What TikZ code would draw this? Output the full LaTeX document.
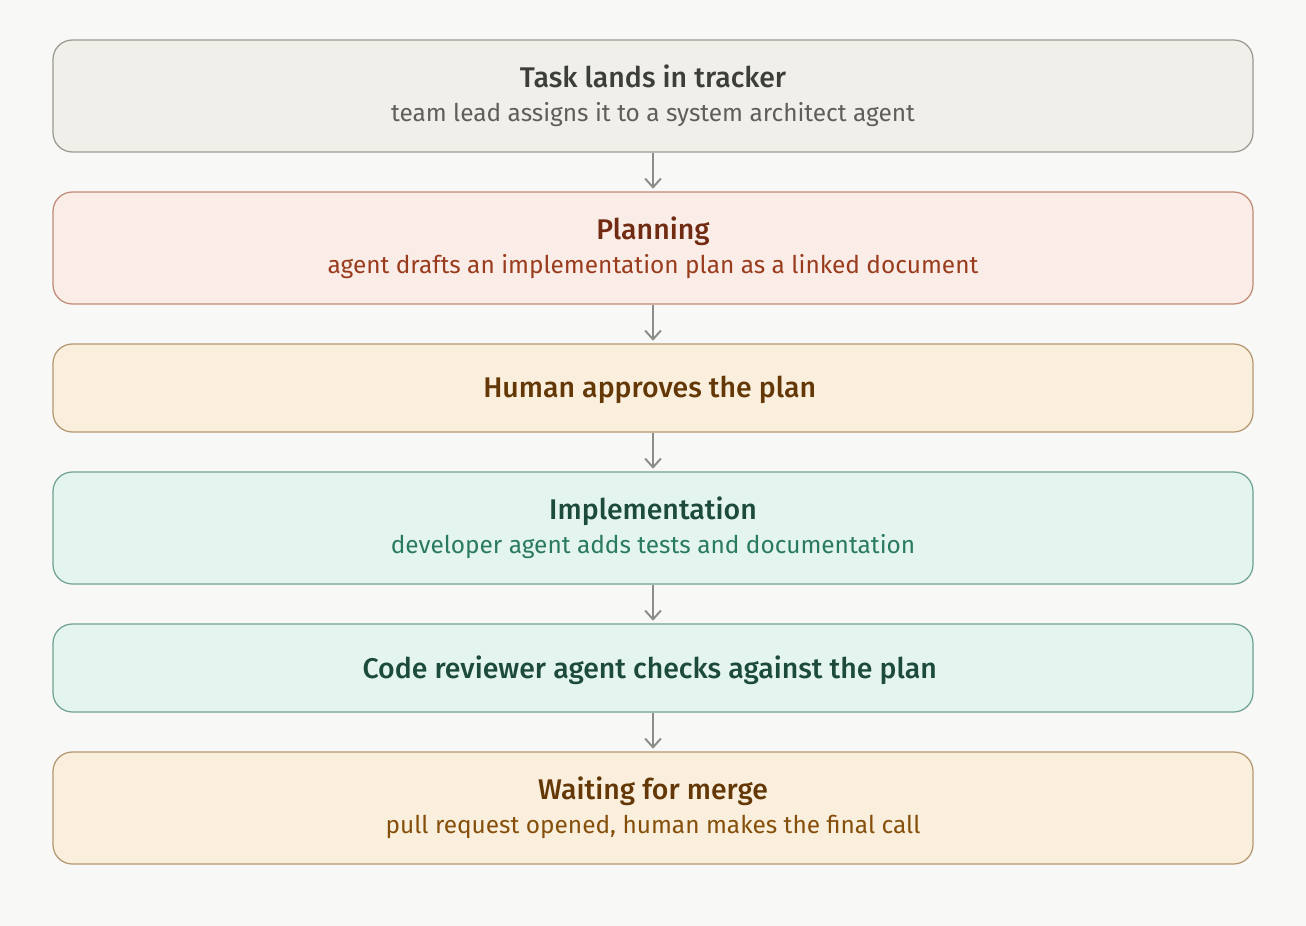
\documentclass[tikz,border=0pt]{standalone}
\usepackage{fontspec}
\setmainfont{Fira Sans}[BoldFont={Fira Sans Medium}]
\usepackage{xcolor}
\usetikzlibrary{arrows.meta,positioning}
\definecolor{pagebg}{HTML}{f8f8f6}
\definecolor{trackfill}{HTML}{f0efea}
\definecolor{trackline}{HTML}{9a9890}
\definecolor{tracktitle}{HTML}{3d3d3a}
\definecolor{tracksub}{HTML}{5f5e5a}
\definecolor{planfill}{HTML}{faece7}
\definecolor{planline}{HTML}{c08a75}
\definecolor{plantitle}{HTML}{712b13}
\definecolor{plansub}{HTML}{993c1d}
\definecolor{humanfill}{HTML}{faefdc}
\definecolor{humanline}{HTML}{b39770}
\definecolor{humantitle}{HTML}{633806}
\definecolor{humansub}{HTML}{854f0b}
\definecolor{devfill}{HTML}{e3f5ee}
\definecolor{devline}{HTML}{6fa290}
\definecolor{devtitle}{HTML}{1c4a3b}
\definecolor{devsub}{HTML}{2a7a60}
\definecolor{flowgray}{HTML}{8c8c88}

\begin{document}
\begin{tikzpicture}[
  x=0.02cm, y=-0.02cm,
  every node/.style={align=center},
  stagebox/.style={rectangle, rounded corners=11pt, line width=0.7pt,
                   minimum width=1200*0.02cm, inner sep=0pt,
                   font=\fontsize{13.9}{19.6}\selectfont},
  tallbox/.style={stagebox, minimum height=112*0.02cm},
  shortbox/.style={stagebox, minimum height=88*0.02cm, text depth=1pt},
  trackbox/.style={draw=trackline, fill=trackfill},
  planbox/.style={draw=planline, fill=planfill},
  humanbox/.style={draw=humanline, fill=humanfill},
  devbox/.style={draw=devline, fill=devfill},
  flow/.style={-{Straight Barb[length=5pt, width=9pt]}, line width=1.1pt,
               flowgray, shorten >=1.5pt}
]

% page background, fixes the margins
\fill[pagebg] (0,0) rectangle (1306,926);
\useasboundingbox (0,0) rectangle (1306,926);

% ---- Stages, top to bottom --------------------------------------------------
\node[tallbox, trackbox] (tracker) at (653, 96) {%
  {\fontsize{16.2}{19.6}\selectfont\bfseries\color{tracktitle}Task lands in tracker}\\
  {\color{tracksub}team lead assigns it to a system architect agent}
};

\node[tallbox, planbox] (planning) at (653, 248) {%
  {\fontsize{16.2}{19.6}\selectfont\bfseries\color{plantitle}Planning}\\
  {\color{plansub}agent drafts an implementation plan as a linked document}
};

\node[shortbox, humanbox] (approve) at (653, 388) {%
  {\fontsize{16.2}{19.6}\selectfont\bfseries\color{humantitle}Human approves the plan}
};

\node[tallbox, devbox] (implement) at (653, 528) {%
  {\fontsize{16.2}{19.6}\selectfont\bfseries\color{devtitle}Implementation}\\
  {\color{devsub}developer agent adds tests and documentation}
};

\node[shortbox, devbox] (review) at (653, 668) {%
  {\fontsize{16.2}{19.6}\selectfont\bfseries\color{devtitle}Code reviewer agent checks against the plan}
};

\node[tallbox, humanbox] (merge) at (653, 808) {%
  {\fontsize{16.2}{19.6}\selectfont\bfseries\color{humantitle}Waiting for merge}\\
  {\color{humansub}pull request opened, human makes the final call}
};

% ---- Hand-offs --------------------------------------------------------------
\draw[flow] (tracker.south) -- (planning.north);
\draw[flow] (planning.south) -- (approve.north);
\draw[flow] (approve.south) -- (implement.north);
\draw[flow] (implement.south) -- (review.north);
\draw[flow] (review.south) -- (merge.north);

\end{tikzpicture}
\end{document}
